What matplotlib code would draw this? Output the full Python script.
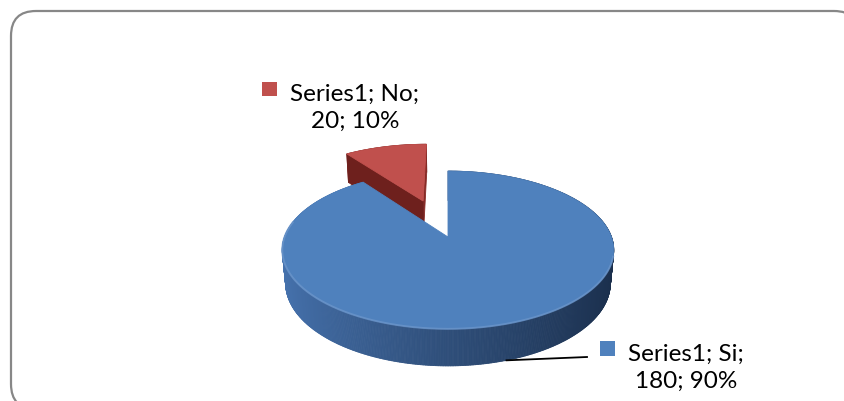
import numpy as np
import matplotlib
matplotlib.use('Agg')
import matplotlib.pyplot as plt
from matplotlib.patches import Polygon, Rectangle, FancyBboxPatch
from matplotlib.collections import PolyCollection
from matplotlib.colors import to_rgb

# datos
series_name = 'Series1'
categorias = ['Si', 'No']
valores = [180, 20]
colores = ['#4F81BD', '#C0504D']
explode = [0.0, 0.534]

plt.rcParams['font.family'] = ['Lato', 'DejaVu Sans']

# proyeccion en perspectiva (coordenadas en pixeles)
ELEV = np.radians(28)
S, C = np.sin(ELEV), np.cos(ELEV)
DIST = 5.37
FOC = 878.0
H = 0.2324
CX, CY = 448.0, 238.0


def proj(x, y, z):
    yc = y * S + z * C
    d = DIST + y * C - z * S
    return CX + FOC * x / d, CY - FOC * yc / d


def mezcla(c1, c2, t):
    a, b = np.array(to_rgb(c1)), np.array(to_rgb(c2))
    return tuple(a + (b - a) * t)


fig = plt.figure(figsize=(8.44, 4.02), dpi=100)
ax = fig.add_axes([0, 0, 1, 1])
ax.set_xlim(0, 844)
ax.set_ylim(402, 0)
ax.axis('off')

# marco redondeado
marco = FancyBboxPatch((11, 12), 848, 398, boxstyle='round,pad=0,rounding_size=25',
                       fc='white', ec='#878787', lw=1.6, clip_on=False, zorder=0)
ax.add_patch(marco)

total = float(sum(valores))
inicio = 0.0
rebanadas = []
for i, v in enumerate(valores):
    ang = 360.0 * v / total
    rebanadas.append((inicio, inicio + ang))
    inicio += ang

# primero la rebanada roja (detras), luego la azul
orden = [1, 0]
z = 1
for i in orden:
    a0, a1 = rebanadas[i]
    mid = np.radians((a0 + a1) / 2)
    ox, oy = explode[i] * np.sin(mid), explode[i] * np.cos(mid)
    th = np.radians(np.linspace(a0, a1, max(int(a1 - a0) * 2, 8)))
    xs = ox + np.sin(th)
    ys = oy + np.cos(th)

    # lados (cilindro)
    quads, cols = [], []
    for k in range(len(th) - 1):
        p1 = proj(xs[k], ys[k], 0)
        p2 = proj(xs[k + 1], ys[k + 1], 0)
        p3 = proj(xs[k + 1], ys[k + 1], -H)
        p4 = proj(xs[k], ys[k], -H)
        quads.append([p1, p2, p3, p4])
        t = (np.sin(th[k]) + 1) / 2
        if i == 0:
            cols.append(mezcla('#4774b0', '#1a2e4b', t ** 0.9))
        else:
            cols.append(mezcla('#8a2a26', '#5a1714', t))
    idx = np.argsort([-(ys[k] + ys[k + 1]) for k in range(len(th) - 1)])
    pc = PolyCollection([quads[k] for k in idx], facecolors=[cols[k] for k in idx],
                        edgecolors=[cols[k] for k in idx], linewidths=0.6, zorder=z)
    ax.add_collection(pc)

    # caras radiales de la rebanada separada
    if i == 1:
        for a, col in [(a1, '#862a26'), (a0, '#6e201d')]:
            r = np.radians(a)
            cara = [proj(ox, oy, 0), proj(ox + np.sin(r), oy + np.cos(r), 0),
                    proj(ox + np.sin(r), oy + np.cos(r), -H), proj(ox, oy, -H)]
            ax.add_patch(Polygon(cara, closed=True, fc=col, ec=col, lw=0.6, zorder=z + 0.5))

    # cara superior
    sup = [proj(ox, oy, 0)] + [proj(x, y, 0) for x, y in zip(xs, ys)]
    ax.add_patch(Polygon(sup, closed=True, fc=colores[i], ec=colores[i], lw=0.6, zorder=z + 1))
    if i == 0:
        frente = th[(np.sin(th) < 0.97) & (np.cos(th) < 0.2)]
        bx, by = zip(*[proj(np.sin(t), np.cos(t), 0) for t in frente])
        ax.plot(bx, by, color='#6f98cc', lw=1.4, alpha=0.7, zorder=z + 1.2)
    z += 3

# etiquetas
etq_pos = [(686, 368), (355, 108)]
for i, v in enumerate(valores):
    pct = 100.0 * v / total
    txt = f'{series_name}; {categorias[i]};\n{v:g}; {pct:.0f}%'
    tx, ty = etq_pos[i]
    ax.text(tx, ty, txt, ha='center', va='center', multialignment='center',
            fontsize=17.5, linespacing=1.38, color='black', zorder=20)

# cuadros de leyenda en las etiquetas
ax.add_patch(Rectangle((600, 342), 15, 15, fc=colores[0], ec='none', zorder=20))
ax.add_patch(Rectangle((262, 83), 15, 14, fc=colores[1], ec='none', zorder=20))

# linea guia de la etiqueta azul (desde el punto medio del borde inferior)
a0, a1 = rebanadas[0]
mid = np.radians((a0 + a1) / 2)
gx, gy = proj(np.sin(mid), np.cos(mid), -H)
ax.plot([gx, 587], [gy, 358], color='black', lw=1.3, zorder=19)

fig.savefig('out.png', dpi=100)
